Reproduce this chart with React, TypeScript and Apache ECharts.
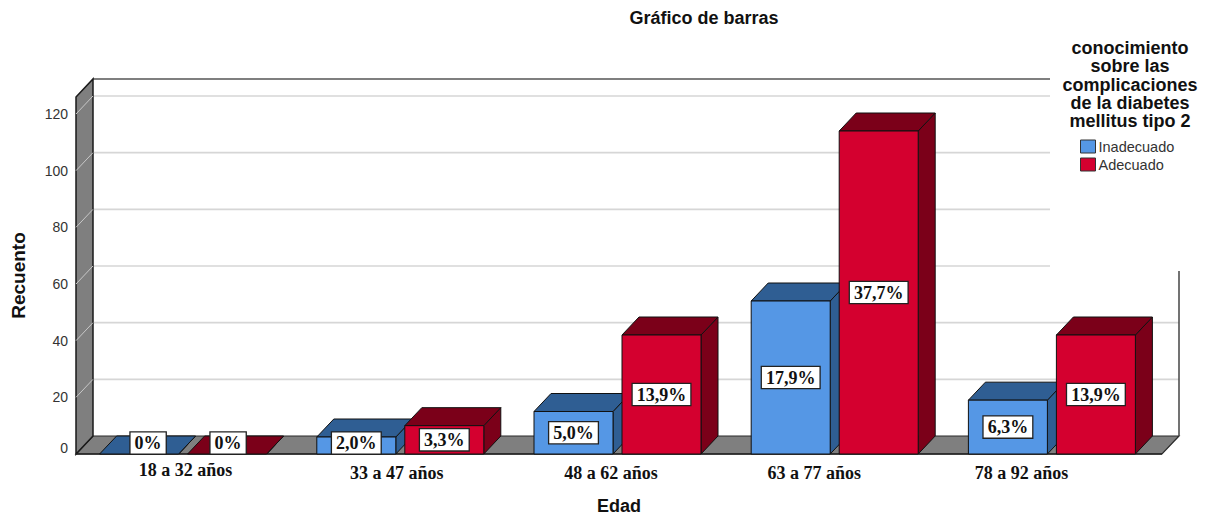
import React, { useEffect, useRef } from "react";
import * as echarts from "echarts";

const categories = ["18 a 32 años", "33 a 47 años", "48 a 62 años", "63 a 77 años", "78 a 92 años"];
const seriesNames = ["Inadecuado", "Adecuado"];
const inadecuado = [0, 6, 15, 54, 19];
const adecuado = [0, 10, 42, 114, 42];
const pctInadecuado = ["0%", "2,0%", "5,0%", "17,9%", "6,3%"];
const pctAdecuado = ["0%", "3,3%", "13,9%", "37,7%", "13,9%"];
const yTicks = [0, 20, 40, 60, 80, 100, 120];

const SANS = '"Liberation Sans", Arial, sans-serif';
const SERIF = '"Liberation Serif", "Times New Roman", serif';
const DX = 17;
const DY = 18;
const BAR_W = 79;
const FRONT = ["#5597e5", "#d4002f"];
const DARK = ["#2f5e93", "#7b0019"];
const LABEL_SHIFT = [1, -5, -8, -22, -32];
const LABEL_DOWN = [0, 3, 3, 3, 3];

export default function App() {
  const ref = useRef<HTMLDivElement>(null);
  useEffect(() => {
    const chart = echarts.init(ref.current!, null, { renderer: "svg", width: 1213, height: 520 });

    const wallsRender = (params: any, api: any) => {
      const cs = params.coordSys;
      const x0 = cs.x;
      const x1 = cs.x + cs.width;
      const yT = cs.y;
      const yB = cs.y + cs.height;
      const legendCutX = 1050;
      const legendCutY = 271;
      const children: any[] = [];
      children.push({
        type: "polygon",
        shape: { points: [[x0, yB], [x0 + DX, yB - DY], [x1 + DX, yB - DY], [x1, yB]] },
        style: { fill: "#7f7f7f", stroke: "#2a2a2a", lineWidth: 1.2 },
      });
      yTicks.forEach((t) => {
        if (t === 0) return;
        const y = api.coord([0, t])[1];
        const by = y - DY;
        const endX = by < legendCutY ? legendCutX : x1 + DX;
        children.push({
          type: "line",
          shape: { x1: x0 + DX, y1: by, x2: endX, y2: by },
          style: { stroke: "#d6d6d6", lineWidth: 1.6 },
        });
      });
      children.push({
        type: "line",
        shape: { x1: x0 + DX, y1: yT - DY, x2: legendCutX, y2: yT - DY },
        style: { stroke: "#555", lineWidth: 1.5 },
      });
      children.push({
        type: "line",
        shape: { x1: x1 + DX, y1: legendCutY, x2: x1 + DX, y2: yB - DY },
        style: { stroke: "#444", lineWidth: 1.5 },
      });
      children.push({
        type: "polygon",
        shape: { points: [[x0, yT], [x0 + DX, yT - DY], [x0 + DX, yB - DY], [x0, yB]] },
        style: { fill: "#7f7f7f", stroke: "#1a1a1a", lineWidth: 1.5 },
      });
      yTicks.forEach((t) => {
        if (t === 0) return;
        const y = api.coord([0, t])[1];
        children.push({
          type: "line",
          shape: { x1: x0, y1: y, x2: x0 + DX, y2: y - DY },
          style: { stroke: "#c8c8c8", lineWidth: 1 },
        });
      });
      children.push({
        type: "line",
        shape: { x1: x0, y1: yB, x2: x1, y2: yB },
        style: { stroke: "#222", lineWidth: 1.5 },
      });
      return { type: "group", children };
    };

    const makeBarRender = (si: number, labels: string[]) => (params: any, api: any) => {
      const i = api.value(0);
      const v = api.value(1);
      const b = api.coord([i, 0]);
      const top = api.coord([i, v])[1];
      const base = b[1];
      const xl = b[0] + (si === 0 ? -85 : 3);
      const xr = xl + BAR_W;
      const stroke = "#111";
      const children: any[] = [];
      children.push({
        type: "polygon",
        shape: { points: [[xr, top], [xr + DX, top - DY], [xr + DX, base - DY], [xr, base]] },
        style: { fill: DARK[si], stroke, lineWidth: 1 },
      });
      children.push({
        type: "polygon",
        shape: { points: [[xl, top], [xl + DX, top - DY], [xr + DX, top - DY], [xr, top]] },
        style: { fill: DARK[si], stroke, lineWidth: 1 },
      });
      if (v > 0) {
        children.push({
          type: "rect",
          shape: { x: xl, y: top, width: BAR_W, height: base - top },
          style: { fill: FRONT[si], stroke, lineWidth: 1 },
        });
      }
      const ly = Math.min((top + base) / 2, base - 11);
      const lx = (xl + xr) / 2 + (v > 0 ? 0 : si === 0 ? 9 : 1);
      children.push({
        type: "text",
        style: {
          text: labels[params.dataIndex],
          x: lx,
          y: ly,
          align: "center",
          verticalAlign: "middle",
          textAlign: "center",
          textVerticalAlign: "middle",
          fill: "#111",
          font: `bold 18px ${SERIF}`,
          backgroundColor: "#fff",
          borderColor: "#222",
          borderWidth: 1.3,
          padding: [2, 4, 1, 4],
        },
      });
      return { type: "group", children };
    };

    const rich: any = {};
    categories.forEach((_, k) => {
      const s = LABEL_SHIFT[k];
      rich["c" + k] = {
        fontFamily: SERIF,
        fontWeight: "bold",
        fontSize: 18,
        color: "#111",
        padding: [LABEL_DOWN[k], s < 0 ? -2 * s : 0, 0, s > 0 ? 2 * s : 0],
      };
    });

    chart.setOption({
      animation: false,
      grid: { left: 76, width: 1086, top: 97, height: 362, containLabel: false },
      legend: {
        data: seriesNames,
        orient: "vertical",
        left: 1075,
        top: 134,
        icon: "rect",
        itemWidth: 15,
        itemHeight: 13,
        itemGap: 3,
        itemStyle: { borderColor: "#333", borderWidth: 1 },
        textStyle: { fontFamily: SANS, fontSize: 14.5, color: "#333", padding: [0, 0, 0, -2] },
      },
      xAxis: {
        type: "category",
        data: categories,
        axisLine: { show: false },
        axisTick: { show: false },
        axisLabel: {
          margin: 7,
          formatter: (val: string, idx: number) => `{c${idx}|${val}}`,
          rich,
        },
        name: "Edad",
        nameLocation: "middle",
        nameGap: 43,
        nameTextStyle: { fontFamily: SANS, fontWeight: "bold", fontSize: 18, color: "#111" },
        splitLine: { show: false },
      },
      yAxis: {
        type: "value",
        min: 0,
        max: 126,
        interval: 20,
        axisLine: { show: false },
        axisTick: { show: false },
        splitLine: { show: false },
        axisLabel: {
          margin: 8,
          fontFamily: SANS,
          fontSize: 14,
          color: "#333",
          showMaxLabel: false,
          formatter: (v: number) =>
            v === 0 ? "{z|0}" : yTicks.indexOf(v) >= 0 ? String(v) : "",
          rich: {
            z: { fontFamily: SANS, fontSize: 14, color: "#333", padding: [0, 0, 12, 0] },
          },
        },
        name: "Recuento",
        nameLocation: "middle",
        nameGap: 48,
        nameRotate: 90,
        nameTextStyle: { fontFamily: SANS, fontWeight: "bold", fontSize: 19, color: "#111" },
      },
      graphic: [
        {
          type: "text",
          x: 704,
          y: 18,
          style: {
            text: "Gráfico de barras",
            align: "center",
            verticalAlign: "middle",
            textAlign: "center",
            textVerticalAlign: "middle",
            font: `bold 18px ${SANS}`,
            fill: "#111",
          },
        },
        {
          type: "text",
          x: 1130,
          y: 39,
          style: {
            text: "conocimiento\nsobre las\ncomplicaciones\nde la diabetes\nmellitus tipo 2",
            align: "center",
            verticalAlign: "top",
            textAlign: "center",
            textVerticalAlign: "top",
            font: `bold 18px ${SANS}`,
            lineHeight: 18.3,
            fill: "#111",
          },
        },
      ],
      series: [
        {
          type: "custom",
          name: "walls",
          silent: true,
          z: 1,
          data: [[0, 0]],
          encode: { x: 0, y: 1 },
          renderItem: wallsRender,
        },
        {
          type: "custom",
          name: seriesNames[0],
          z: 3,
          data: inadecuado.map((v, i) => [i, v]),
          encode: { x: 0, y: 1 },
          itemStyle: { color: FRONT[0] },
          renderItem: makeBarRender(0, pctInadecuado),
        },
        {
          type: "custom",
          name: seriesNames[1],
          z: 4,
          data: adecuado.map((v, i) => [i, v]),
          encode: { x: 0, y: 1 },
          itemStyle: { color: FRONT[1] },
          renderItem: makeBarRender(1, pctAdecuado),
        },
      ],
    });
    return () => chart.dispose();
  }, []);
  return (
    <div
      ref={ref}
      style={{ position: "fixed", left: 0, top: 0, width: 1213, height: 520, background: "#fff" }}
    />
  );
}
